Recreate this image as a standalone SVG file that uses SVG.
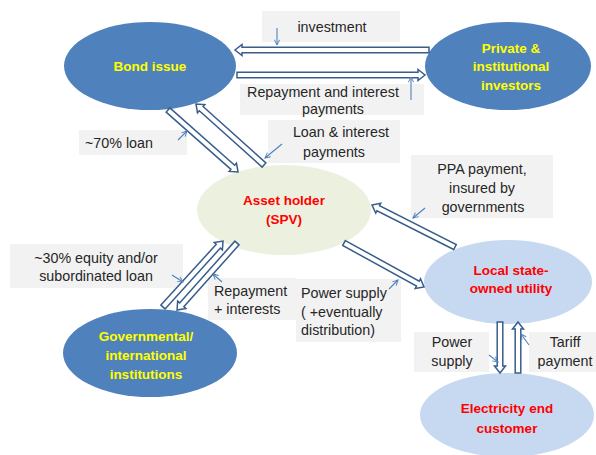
<svg xmlns="http://www.w3.org/2000/svg" width="596" height="455" viewBox="0 0 596 455">
  <defs>
    <marker id="tip" viewBox="0 0 8 8" refX="7" refY="4" markerWidth="7" markerHeight="7" orient="auto" markerUnits="userSpaceOnUse">
      <path d="M1,1 L7,4 L1,7" fill="none" stroke="#4f81bd" stroke-width="1.1"/>
    </marker>
  </defs>
  <style>
    text { font-family: "Liberation Sans", Arial, sans-serif; }
    .lbl { font-size: 14.3px; fill: #262626; }
    .mid { text-anchor: middle; }
    .hy { font-size: 13.5px; font-weight: bold; fill: #ffff00; text-anchor: middle; }
    .hr { font-size: 13.5px; font-weight: bold; fill: #ff0000; text-anchor: middle; }
    .dark { fill: #4f81bd; }
    .spv { fill: #ebf1de; }
    .util { fill: #c6d9f1; }
    .box { fill: #f2f2f2; }
    .blk { fill: #ffffff; stroke: #385d8a; stroke-width: 1.5; stroke-linejoin: miter; }
    .ptr { fill: none; stroke: #4f81bd; stroke-width: 1.1; marker-end: url(#tip); }
  </style>

  <rect width="596" height="455" fill="#ffffff"/>

  <!-- flow labels -->
  <g id="labels">
    <rect class="box" x="262" y="11" width="138" height="31"/>
    <text class="lbl mid" x="332" y="32">investment</text>

    <rect class="box" x="240" y="84" width="184" height="31"/>
    <text class="lbl mid" x="323" y="97">Repayment and interest</text>
    <text class="lbl mid" x="333" y="114">payments</text>

    <rect class="box" x="79" y="130" width="108" height="25"/>
    <text class="lbl" x="85" y="148">~70% loan</text>

    <rect class="box" x="268" y="120" width="132" height="43"/>
    <text class="lbl mid" x="341" y="137">Loan &amp; interest</text>
    <text class="lbl mid" x="334" y="157">payments</text>

    <rect class="box" x="411" y="155" width="142" height="63"/>
    <text class="lbl mid" x="482" y="174">PPA payment,</text>
    <text class="lbl mid" x="482" y="193">insured by</text>
    <text class="lbl mid" x="483" y="212">governments</text>

    <rect class="box" x="10" y="244" width="173" height="44"/>
    <text class="lbl mid" x="96" y="263">~30% equity and/or</text>
    <text class="lbl mid" x="96" y="281">subordinated loan</text>

    <rect class="box" x="208" y="278" width="88" height="42"/>
    <text class="lbl" x="214" y="296">Repayment</text>
    <text class="lbl" x="214" y="314">+ interests</text>

    <rect class="box" x="296" y="279" width="105" height="63"/>
    <text class="lbl" x="301" y="298">Power supply</text>
    <text class="lbl" x="301" y="317">( +eventually</text>
    <text class="lbl" x="301" y="335">distribution)</text>

    <rect class="box" x="414" y="332" width="75" height="40"/>
    <text class="lbl mid" x="452" y="347">Power</text>
    <text class="lbl mid" x="452" y="366">supply</text>

    <rect class="box" x="529" y="332" width="67" height="40"/>
    <text class="lbl mid" x="565" y="347">Tariff</text>
    <text class="lbl mid" x="565" y="366">payment</text>
  </g>

  <!-- nodes -->
  <g id="bond-issue">
    <ellipse class="dark" cx="150" cy="66" rx="86" ry="44"/>
    <text class="hy" x="150" y="71">Bond issue</text>
  </g>
  <g id="private-investors">
    <ellipse class="dark" cx="508" cy="66" rx="83" ry="44"/>
    <text class="hy" x="511" y="53">Private &amp;</text>
    <text class="hy" x="511" y="71">institutional</text>
    <text class="hy" x="511" y="90">investors</text>
  </g>
  <g id="asset-holder">
    <ellipse class="spv" cx="284" cy="210" rx="87" ry="45"/>
    <text class="hr" x="284" y="205">Asset holder</text>
    <text class="hr" x="284" y="224">(SPV)</text>
  </g>
  <g id="local-utility">
    <ellipse class="util" cx="508" cy="282" rx="84" ry="42"/>
    <text class="hr" x="511" y="275">Local state-</text>
    <text class="hr" x="511" y="293">owned utility</text>
  </g>
  <g id="end-customer">
    <ellipse class="util" cx="507" cy="415" rx="87" ry="42"/>
    <text class="hr" x="507" y="413">Electricity end</text>
    <text class="hr" x="507" y="433">customer</text>
  </g>
  <g id="gov-institutions">
    <ellipse class="dark" cx="150" cy="353" rx="87" ry="44"/>
    <text class="hy" x="146" y="341">Governmental/</text>
    <text class="hy" x="146" y="360">international</text>
    <text class="hy" x="146" y="379">institutions</text>
  </g>

  <!-- connectors: hollow block arrows, tail at origin, pointing along +x -->
  <g id="connectors">
    <path class="blk" transform="translate(429,50) rotate(180)" d="M0,-2.8H187V-5.5L194,0L187,5.5V2.8H0Z"/>
    <path class="blk" transform="translate(237,75)" d="M0,-2.8H181V-5.5L188,0L181,5.5V2.8H0Z"/>
    <path class="blk" transform="translate(168,110) rotate(41.5)" d="M0,-2.8H86.5V-5.5L93.5,0L86.5,5.5V2.8H0Z"/>
    <path class="blk" transform="translate(264,165) rotate(-138.1)" d="M0,-2.8H84.4V-5.5L91.4,0L84.4,5.5V2.8H0Z"/>
    <path class="blk" transform="translate(455,247) rotate(-153.2)" d="M0,-2.8H86V-5.5L93,0L86,5.5V2.8H0Z"/>
    <path class="blk" transform="translate(344,243) rotate(28.8)" d="M0,-2.8H84.3V-5.5L91.3,0L84.3,5.5V2.8H0Z"/>
    <path class="blk" transform="translate(163,307) rotate(-47.7)" d="M0,-2.8H82.2V-5.5L89.2,0L82.2,5.5V2.8H0Z"/>
    <path class="blk" transform="translate(237,243) rotate(131.8)" d="M0,-2.8H82.9V-5.5L89.9,0L82.9,5.5V2.8H0Z"/>
    <path class="blk" transform="translate(500,322) rotate(90)" d="M0,-2.8H44V-5.5L51,0L44,5.5V2.8H0Z"/>
    <path class="blk" transform="translate(518,373) rotate(-90)" d="M0,-2.8H44V-5.5L51,0L44,5.5V2.8H0Z"/>
  </g>

  <!-- label pointers -->
  <g id="pointers">
    <line class="ptr" x1="277" y1="28" x2="277" y2="45"/>
    <line class="ptr" x1="411" y1="100" x2="411" y2="77"/>
    <line class="ptr" x1="178" y1="140" x2="187" y2="131"/>
    <line class="ptr" x1="282" y1="144" x2="265" y2="158"/>
    <line class="ptr" x1="425" y1="208" x2="413" y2="218"/>
    <line class="ptr" x1="172" y1="275" x2="183" y2="282"/>
    <line class="ptr" x1="222" y1="282" x2="213" y2="274"/>
    <line class="ptr" x1="389" y1="289" x2="398" y2="280"/>
    <line class="ptr" x1="489" y1="355" x2="498" y2="362"/>
    <line class="ptr" x1="529" y1="345" x2="521" y2="334"/>
  </g>
</svg>
